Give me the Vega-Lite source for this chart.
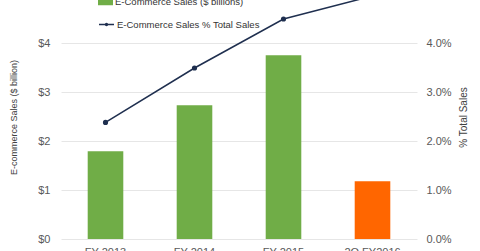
{
  "$schema": "https://vega.github.io/schema/vega-lite/v6.json",
  "width": 356,
  "height": 196,
  "autosize": {"type": "none"},
  "padding": {"left": 61, "top": 43, "right": 63, "bottom": 12},
  "background": "white",
  "config": {
    "view": {"stroke": null},
    "font": "Liberation Sans",
    "axis": {"labelFont": "Liberation Sans", "titleFont": "Liberation Sans", "labelColor": "#595959", "titleColor": "#404040", "titleFontWeight": "normal"},
    "legend": {"labelFont": "Liberation Sans"}
  },
  "data": {
    "values": [
      {"period": "FY 2013", "sales": 1.79, "pct": 2.38, "bar_series": "E-Commerce Sales ($ billions)", "line_series": "E-Commerce Sales % Total Sales"},
      {"period": "FY 2014", "sales": 2.73, "pct": 3.49, "bar_series": "E-Commerce Sales ($ billions)", "line_series": "E-Commerce Sales % Total Sales"},
      {"period": "FY 2015", "sales": 3.75, "pct": 4.49, "bar_series": "E-Commerce Sales ($ billions)", "line_series": "E-Commerce Sales % Total Sales"},
      {"period": "2Q FY2016", "sales": 1.18, "pct": 4.96, "bar_series": "E-Commerce Sales ($ billions)", "line_series": "E-Commerce Sales % Total Sales"}
    ]
  },
  "encoding": {
    "x": {
      "field": "period",
      "type": "nominal",
      "sort": null,
      "scale": {"paddingInner": 0.6, "paddingOuter": 0.3},
      "axis": {"title": null, "labelAngle": 0, "labelFontSize": 11, "ticks": false, "tickSize": 0, "domain": false, "labelPadding": 7, "grid": false}
    }
  },
  "layer": [
    {
      "mark": {"type": "bar"},
      "encoding": {
        "y": {
          "field": "sales",
          "type": "quantitative",
          "scale": {"domain": [0, 4], "nice": false},
          "axis": {
            "title": "E-commerce Sales ($ billion)",
            "titleFontSize": 9,
            "values": [0, 1, 2, 3, 4],
            "labelExpr": "'$' + datum.value",
            "labelFontSize": 11,
            "labelPadding": 11,
            "ticks": false,
            "domain": false,
            "grid": true,
            "gridColor": "#E6E6E6",
            "gridWidth": 1,
            "titleAngle": -90,
            "titleBaseline": "middle",
            "titleX": -48,
            "titleY": 74
          }
        },
        "color": {
          "condition": {"test": "datum.period === '2Q FY2016'", "value": "#FF6600"},
          "field": "bar_series",
          "type": "nominal",
          "scale": {"range": ["#70AD47"]},
          "legend": {
            "title": null,
            "orient": "none",
            "legendX": 37,
            "legendY": -49,
            "padding": 0,
            "symbolType": "M-1,-0.5H1V0.5H-1Z",
            "symbolSize": 225,
            "symbolStrokeWidth": 0,
            "labelOffset": 2,
            "labelFontSize": 9.5,
            "labelColor": "#333333"
          }
        }
      }
    },
    {
      "mark": {"type": "line", "strokeWidth": 1.5, "point": {"filled": true, "fill": "#1F2F4F", "size": 10}},
      "encoding": {
        "y": {
          "field": "pct",
          "type": "quantitative",
          "scale": {"domain": [0, 4], "nice": false},
          "axis": {
            "title": "% Total Sales",
            "titleFontSize": 10,
            "orient": "right",
            "values": [0, 1, 2, 3, 4],
            "labelExpr": "format(datum.value, '.1f') + '%'",
            "labelFontSize": 11,
            "labelPadding": 9,
            "ticks": false,
            "domain": false,
            "grid": false,
            "titleAngle": -90,
            "titleBaseline": "middle",
            "titleX": 46,
            "titleY": 74
          }
        },
        "stroke": {
          "field": "line_series",
          "type": "nominal",
          "scale": {"range": ["#1F2F4F"]},
          "legend": {
            "title": null,
            "orient": "none",
            "legendX": 37,
            "legendY": -27,
            "padding": 0,
            "symbolType": "M-1,0H1M-0.12,0A0.12,0.12,0,1,0,0.12,0A0.12,0.12,0,1,0,-0.12,0",
            "symbolSize": 225,
            "symbolStrokeWidth": 1.5,
            "labelOffset": 2,
            "labelFontSize": 9.5,
            "labelColor": "#333333"
          }
        }
      }
    }
  ],
  "resolve": {"scale": {"y": "independent"}}
}
